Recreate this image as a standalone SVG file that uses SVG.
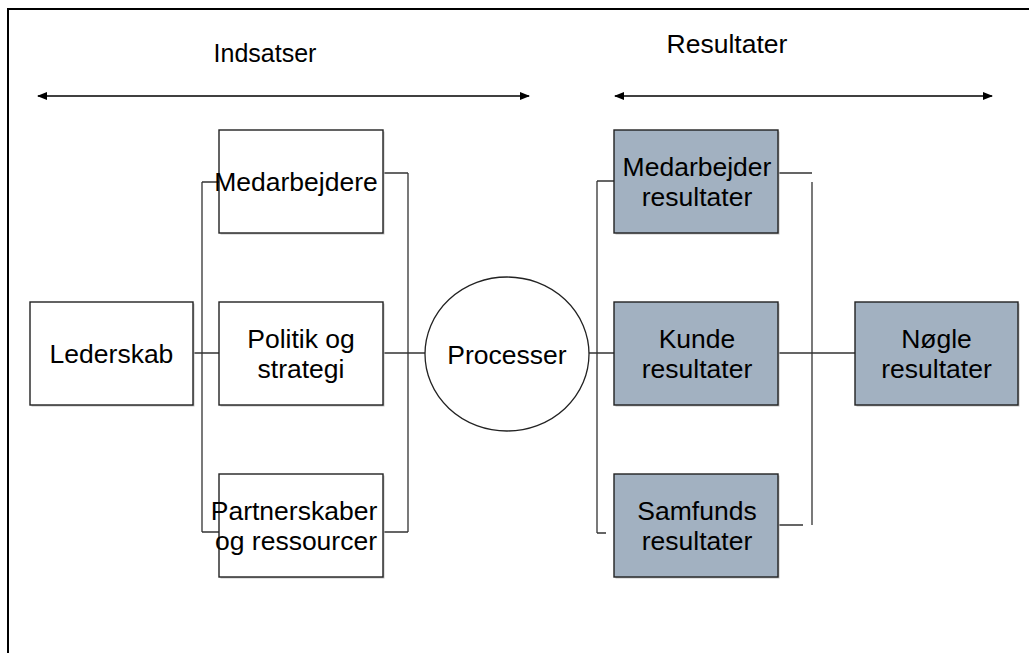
<svg xmlns="http://www.w3.org/2000/svg" width="1029" height="653" viewBox="0 0 1029 653">
<style>
text{font-family:"Liberation Sans",Arial,sans-serif;font-size:26.5px;fill:#000;text-anchor:middle}
.box{fill:#fff;stroke:#222;stroke-width:1.4}
.res{fill:#a2b1c1;stroke:#222;stroke-width:1.4}
.sh{fill:#c4c4c4}
.con{fill:none;stroke:#333;stroke-width:1.3}
.arr{stroke:#000;stroke-width:1.6;marker-start:url(#ah);marker-end:url(#ah)}
</style>
<defs>
<marker id="ah" viewBox="0 0 10 10" refX="9" refY="5" markerWidth="10" markerHeight="10" markerUnits="userSpaceOnUse" orient="auto-start-reverse">
<path d="M0,1 L10,5 L0,9 Z" fill="#000"/>
</marker>
</defs>
<rect width="1029" height="653" fill="#fff"/>
<path d="M8,653 V9 H1029" fill="none" stroke="#000" stroke-width="2"/>
<g id="headers">
<text x="265" y="62" style="font-size:25px">Indsatser</text>
<text x="727" y="53">Resultater</text>
<line class="arr" x1="38" y1="96" x2="529" y2="96"/>
<line class="arr" x1="615" y1="96" x2="992" y2="96"/>
</g>
<g id="connectors">
<path class="con" d="M202,182 V532 M202,182 H219 M202,532 H219"/>
<path class="con" d="M408,173 V532 M383,173 H408 M383,532 H408"/>
<path class="con" d="M193,353 H219 M383,353 H425 M589,353 H614 M778,353 H855"/>
<path class="con" d="M597,181 V533 M597,181 H614 M597,533 H606"/>
<path class="con" d="M778,173 H812 M812,182 V525 M778,525 H803"/>
</g>
<g id="lederskab">
<rect class="sh" x="31.5" y="303.5" width="163" height="103"/>
<rect class="box" x="30" y="302" width="163" height="103"/>
<text x="111.5" y="363">Lederskab</text>
</g>
<g id="medarbejdere">
<rect class="sh" x="220.5" y="131.5" width="164" height="103"/>
<rect class="box" x="219" y="130" width="164" height="103"/>
<text x="296" y="191">Medarbejdere</text>
</g>
<g id="politik">
<rect class="sh" x="220.5" y="303.5" width="164" height="103"/>
<rect class="box" x="219" y="302" width="164" height="103"/>
<text x="301" y="348">Politik og</text>
<text x="301" y="378">strategi</text>
</g>
<g id="partnerskaber">
<rect class="sh" x="220.5" y="475.5" width="164" height="103"/>
<rect class="box" x="219" y="474" width="164" height="103"/>
<text x="294" y="520">Partnerskaber</text>
<text x="296" y="550">og ressourcer</text>
</g>
<g id="processer">
<ellipse cx="507" cy="354" rx="82" ry="77" fill="#fff" stroke="#222" stroke-width="1.3"/>
<text x="507" y="364">Processer</text>
</g>
<g id="medarbejder-resultater">
<rect class="sh" x="615.5" y="131.5" width="164" height="103"/>
<rect class="res" x="614" y="130" width="164" height="103"/>
<text x="697" y="176">Medarbejder</text>
<text x="697" y="206">resultater</text>
</g>
<g id="kunde-resultater">
<rect class="sh" x="615.5" y="303.5" width="164" height="103"/>
<rect class="res" x="614" y="302" width="164" height="103"/>
<text x="697" y="348">Kunde</text>
<text x="697" y="378">resultater</text>
</g>
<g id="samfunds-resultater">
<rect class="sh" x="615.5" y="475.5" width="164" height="103"/>
<rect class="res" x="614" y="474" width="164" height="103"/>
<text x="697" y="520">Samfunds</text>
<text x="697" y="550">resultater</text>
</g>
<g id="noegle-resultater">
<rect class="sh" x="856.5" y="303.5" width="163" height="103"/>
<rect class="res" x="855" y="302" width="163" height="103"/>
<text x="936.5" y="348">Nøgle</text>
<text x="936.5" y="378">resultater</text>
</g>
</svg>
